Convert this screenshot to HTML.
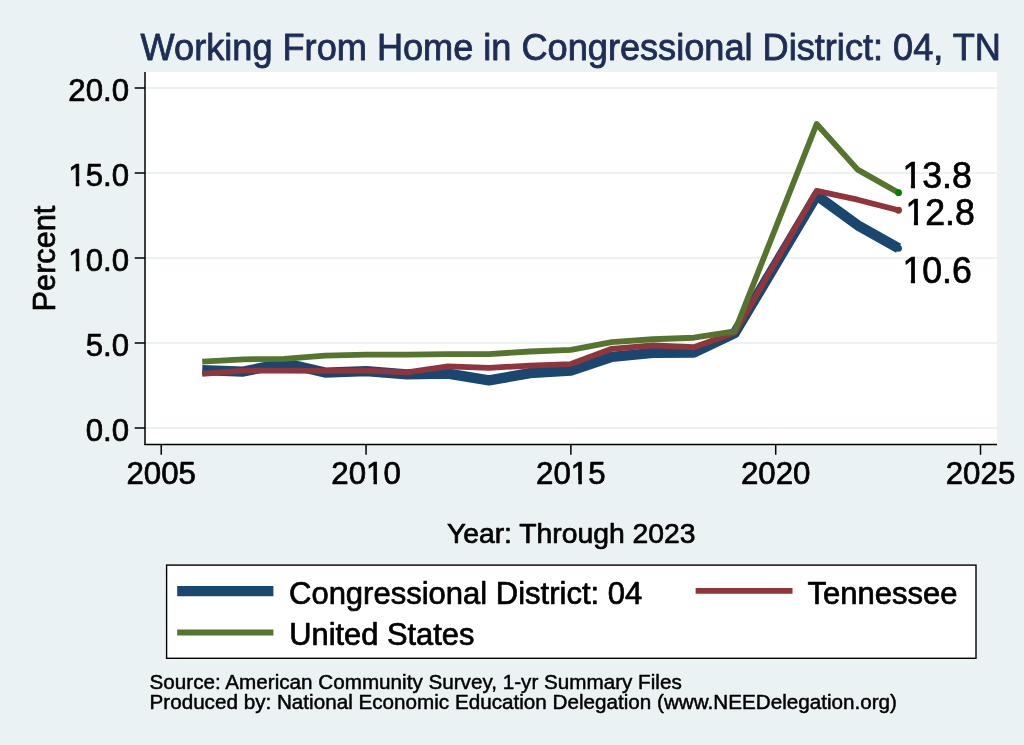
<!DOCTYPE html>
<html lang="en"><head><meta charset="utf-8"><title>Working From Home in Congressional District: 04, TN</title>
<style>
html,body{margin:0;padding:0;background:#eaf2f3;}
body{width:1024px;height:745px;overflow:hidden;}
svg{display:block;font-family:"Liberation Sans", sans-serif;}
text{fill:#000;stroke:#000;stroke-width:0.7px;stroke-linejoin:round;}
text.ttl{fill:#1e2d53;stroke:#1e2d53;stroke-width:0.85px;}
text.sm{stroke-width:0.49px;}

</style></head><body>
<svg width="1024" height="745" viewBox="0 0 1024 745">
<rect x="0" y="0" width="1024" height="745" fill="#eaf2f3"/>
<rect x="145" y="72" width="852" height="372.4" fill="#ffffff"/>

<defs><clipPath id="k0" clipPathUnits="userSpaceOnUse"><path clip-rule="evenodd" d="M-400,-100H400V100H-400ZM-59.30,-3.98H-53.23V2H-59.30ZM-49.77,-3.98H-43.95V2H-49.77Z"/></clipPath><clipPath id="k1" clipPathUnits="userSpaceOnUse"><path clip-rule="evenodd" d="M-400,-100H400V100H-400ZM1.43,-3.98H7.51V2H1.43ZM10.97,-3.98H16.80V2H10.97Z"/></clipPath><clipPath id="k2" clipPathUnits="userSpaceOnUse"><path clip-rule="evenodd" d="M-400,-100H400V100H-400ZM1.62,-4.47H8.48V2H1.62ZM12.63,-4.47H19.21V2H12.63Z"/></clipPath></defs>
<g stroke="#eaf2f3" stroke-width="2">
<line x1="145" x2="997" y1="428.00" y2="428.00"/>
<line x1="145" x2="997" y1="343.00" y2="343.00"/>
<line x1="145" x2="997" y1="258.00" y2="258.00"/>
<line x1="145" x2="997" y1="173.00" y2="173.00"/>
<line x1="145" x2="997" y1="88.00" y2="88.00"/>
</g>
<g fill="none" stroke-linejoin="round">
<polyline points="202.21,370.20 243.18,371.56 284.14,363.06 325.10,372.58 366.06,371.05 407.03,374.45 447.99,373.60 488.95,380.40 529.92,373.09 570.88,370.71 611.84,356.94 652.81,352.86 693.77,352.69 734.73,333.14 816.66,195.44 857.62,225.19 898.58,248.31" stroke="#1a476f" stroke-width="10.3"/>
<polyline points="202.21,373.94 243.18,370.54 284.14,370.54 325.10,370.88 366.06,370.71 407.03,372.41 447.99,366.29 488.95,367.82 529.92,365.61 570.88,364.08 611.84,348.78 652.81,345.38 693.77,347.25 734.73,332.80 816.66,190.85 857.62,199.69 898.58,210.23" stroke="#90353b" stroke-width="5.8"/>
<polyline points="202.21,361.70 243.18,359.32 284.14,358.81 325.10,355.58 366.06,354.56 407.03,354.56 447.99,354.22 488.95,354.05 529.92,351.50 570.88,349.80 611.84,342.15 652.81,339.26 693.77,337.73 734.73,331.44 816.66,124.04 857.62,169.60 898.58,192.72" stroke="#55752f" stroke-width="5.8"/>
</g>
<circle cx="898.58" cy="248.31" r="3.4" fill="#1a476f"/>
<circle cx="898.58" cy="210.23" r="3.4" fill="#90353b"/>
<circle cx="898.58" cy="192.72" r="3.4" fill="#008000"/>
<g stroke="#000" stroke-width="1.5">
<line x1="145" x2="145" y1="72" y2="445.1"/>
<line x1="144.3" x2="997" y1="444.4" y2="444.4"/>
<line x1="134.7" x2="145" y1="428.00" y2="428.00"/>
<line x1="134.7" x2="145" y1="343.00" y2="343.00"/>
<line x1="134.7" x2="145" y1="258.00" y2="258.00"/>
<line x1="134.7" x2="145" y1="173.00" y2="173.00"/>
<line x1="134.7" x2="145" y1="88.00" y2="88.00"/>
<line x1="161.25" x2="161.25" y1="444.4" y2="454.8"/>
<line x1="366.06" x2="366.06" y1="444.4" y2="454.8"/>
<line x1="570.88" x2="570.88" y1="444.4" y2="454.8"/>
<line x1="775.70" x2="775.70" y1="444.4" y2="454.8"/>
<line x1="980.51" x2="980.51" y1="444.4" y2="454.8"/>
</g>
<text class="t" transform="translate(129.00,440.80)" font-size="31.2" text-anchor="end">0.0</text>
<text class="t" transform="translate(129.00,355.80)" font-size="31.2" text-anchor="end">5.0</text>
<text class="t" transform="translate(129.00,270.80)" font-size="31.2" text-anchor="end" clip-path="url(#k0)">10.0</text>
<text class="t" transform="translate(129.00,185.80)" font-size="31.2" text-anchor="end" clip-path="url(#k0)">15.0</text>
<text class="t" transform="translate(129.00,100.80)" font-size="31.2" text-anchor="end">20.0</text>
<text class="t" transform="translate(161.25,484.00)" font-size="31.25" text-anchor="middle">2005</text>
<text class="t" transform="translate(366.06,484.00)" font-size="31.25" text-anchor="middle" clip-path="url(#k1)">2010</text>
<text class="t" transform="translate(570.88,484.00)" font-size="31.25" text-anchor="middle" clip-path="url(#k1)">2015</text>
<text class="t" transform="translate(775.70,484.00)" font-size="31.25" text-anchor="middle">2020</text>
<text class="t" transform="translate(980.51,484.00)" font-size="31.25" text-anchor="middle">2025</text>
<text class="t lb" transform="translate(902.40,187.80) scale(1.0,1.01)" font-size="35.7" stroke-width="1.0" clip-path="url(#k2)">13.8</text>
<text class="t lb" transform="translate(905.40,224.60) scale(1.0,1.01)" font-size="35.7" stroke-width="1.0" clip-path="url(#k2)">12.8</text>
<text class="t lb" transform="translate(902.40,283.00) scale(1.0,1.01)" font-size="35.7" stroke-width="1.0" clip-path="url(#k2)">10.6</text>
<text class="ttl" transform="translate(140.60,60.00)" font-size="36.15">Working From Home in Congressional District: 04, TN</text>
<text class="t" transform="translate(55.20,258.50) rotate(-90) scale(0.978,1.0)" font-size="31.4" text-anchor="middle">Percent</text>
<text class="t" transform="translate(571.20,543.30)" font-size="28.3" text-anchor="middle">Year: Through 2023</text>
<rect x="166.6" y="565.1" width="809.4" height="93.2" fill="#fff" stroke="#000" stroke-width="1.4"/>
<line x1="177.2" x2="273.4" y1="591.1" y2="591.1" stroke="#1a476f" stroke-width="10.3"/>
<line x1="695.6" x2="792.5" y1="590.9" y2="590.9" stroke="#90353b" stroke-width="5.8"/>
<line x1="177.2" x2="273.4" y1="632.5" y2="632.5" stroke="#55752f" stroke-width="5.8"/>
<text class="t" transform="translate(289.00,604.30)" font-size="31.0">Congressional District: 04</text>
<text class="t" transform="translate(807.60,604.30)" font-size="31.0">Tennessee</text>
<text class="t" transform="translate(289.20,645.00)" font-size="30.85">United States</text>
<text class="t sm" transform="translate(149.50,688.50)" font-size="20.67">Source: American Community Survey, 1-yr Summary Files</text>
<text class="t sm" transform="translate(149.50,708.90)" font-size="20.67">Produced by: National Economic Education Delegation (www.NEEDelegation.org)</text>
</svg>
</body></html>
